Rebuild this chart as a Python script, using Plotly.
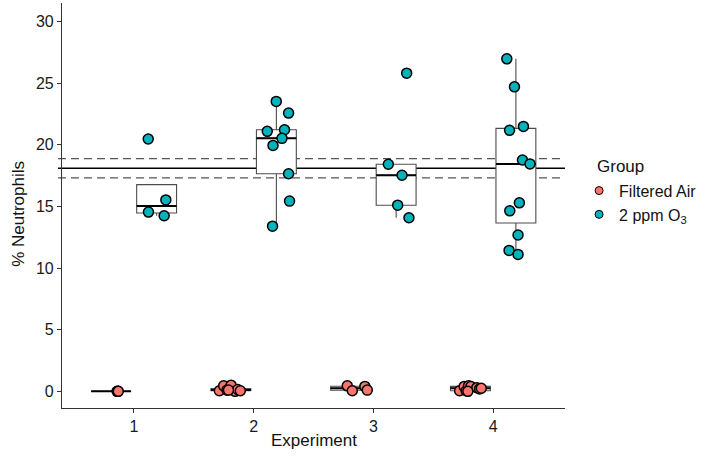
import numpy as np
import plotly.graph_objects as go

# ---------------- data ----------------
experiments = [1, 2, 3, 4]
x_tick_labels = ["1", "2", "3", "4"]
y_tick_values = [0, 5, 10, 15, 20, 25, 30]

x_title = "Experiment"
y_title = "% Neutrophils"
legend_title = "Group"
group_names = ["Filtered Air", "2 ppm O<sub>3</sub>"]
group_colors = ["#F8766D", "#00B3BC"]

# Filtered Air (% neutrophils)
fa_1 = [0.0, 0.0, 0.0]
fa_2 = [0.05, 0.45, 0.1, 0.5, 0.0, 0.15, 0.05, 0.1]
fa_3 = [0.45, 0.05, 0.4, 0.1]
fa_4 = [0.05, 0.4, 0.05, 0.45, 0.4, 0.3, 0.2, 0.25, 0.0]

# 2 ppm O3 (% neutrophils)
o3_1 = [20.47, 15.53, 14.54, 14.24]
o3_2 = [23.52, 22.57, 21.09, 21.22, 20.52, 19.95, 17.65, 15.43, 13.40]
o3_3 = [25.81, 18.42, 17.53, 15.10, 14.08]
o3_4 = [26.97, 24.70, 21.49, 21.17, 18.77, 18.45, 15.29, 14.64, 12.68, 11.43, 11.11]

# horizontal jitter of each point
fa_1_jitter = [0.050, 0.055, 0.060]
fa_2_jitter = [-0.096, -0.060, -0.032, 0.002, 0.035, 0.057, 0.079, -0.020]
fa_3_jitter = [-0.028, 0.014, 0.119, 0.139]
fa_4_jitter = [-0.090, -0.052, -0.035, -0.015, 0.004, 0.054, 0.077, 0.091, -0.021]

o3_1_jitter = [-0.070, 0.077, -0.068, 0.063]
o3_2_jitter = [-0.001, 0.102, -0.076, 0.068, 0.047, -0.028, 0.102, 0.110, -0.032]
o3_3_jitter = [0.088, -0.065, 0.049, 0.013, 0.107]
o3_4_jitter = [-0.076, -0.012, 0.063, -0.053, 0.055, 0.118, 0.029, -0.051, 0.018, -0.057, 0.018]

# reference lines (mean and mean +/- SE of the O3 group)
mean_line = 18.1
se_lines = [17.31, 18.88]

# ---------------- layout constants ----------------
DODGE = 0.19
BOX_W = 0.333
FONT = "Arial, Liberation Sans, sans-serif"

fa_sets = [fa_1, fa_2, fa_3, fa_4]
o3_sets = [o3_1, o3_2, o3_3, o3_4]
fa_jit = [fa_1_jitter, fa_2_jitter, fa_3_jitter, fa_4_jitter]
o3_jit = [o3_1_jitter, o3_2_jitter, o3_3_jitter, o3_4_jitter]


def box_stats(vals):
    v = np.asarray(vals, dtype=float)
    q1, med, q3 = np.percentile(v, [25, 50, 75])
    iqr = q3 - q1
    lo = v[v >= q1 - 1.5 * iqr].min()
    hi = v[v <= q3 + 1.5 * iqr].max()
    return q1, med, q3, min(lo, q1), max(hi, q3)


fig = go.Figure()

groups = [(fa_sets, fa_jit, -DODGE, group_colors[0]), (o3_sets, o3_jit, DODGE, group_colors[1])]

# boxes
for sets, jits, off, col in groups:
    xs, q1s, meds, q3s, lfs, ufs = [], [], [], [], [], []
    mx, my = [], []
    for e, vals in zip(experiments, sets):
        q1, med, q3, lf, uf = box_stats(vals)
        c = e + off
        xs.append(c)
        q1s.append(q1); meds.append(med); q3s.append(q3); lfs.append(lf); ufs.append(uf)
        mx += [c - BOX_W / 2, c + BOX_W / 2, None]
        my += [med, med, None]
    fig.add_trace(go.Box(
        x=xs, q1=q1s, median=meds, q3=q3s, lowerfence=lfs, upperfence=ufs,
        boxpoints=False, width=BOX_W, whiskerwidth=0,
        fillcolor="white", line=dict(color="#4d4d4d", width=1.1),
        showlegend=False, hoverinfo="skip",
    ))
    fig.add_trace(go.Scatter(
        x=mx, y=my, mode="lines", line=dict(color="black", width=2),
        showlegend=False, hoverinfo="skip",
    ))

# points
for sets, jits, off, col in groups:
    px, py = [], []
    for e, vals, jit in zip(experiments, sets, jits):
        for v, j in zip(vals, jit):
            px.append(e + off + j)
            py.append(v)
    fig.add_trace(go.Scatter(
        x=px, y=py, mode="markers",
        marker=dict(size=10, color=col, line=dict(color="black", width=1.5)),
        showlegend=False,
    ))

# legend entries
for name, col in zip(group_names, group_colors):
    fig.add_trace(go.Scatter(
        x=[None], y=[None], mode="markers", name=name,
        marker=dict(size=8, color=col, line=dict(color="black", width=1)),
    ))

# reference lines
fig.add_shape(type="line", xref="paper", x0=-0.008, x1=1, y0=mean_line, y1=mean_line,
              line=dict(color="black", width=1.6), layer="below")
for yv in se_lines:
    fig.add_shape(type="line", xref="paper", x0=-0.008, x1=1, y0=yv, y1=yv,
                  line=dict(color="#555555", width=1.2, dash="8px,5px"), layer="below")

axis_common = dict(
    showline=True, linecolor="#333333", linewidth=1.2,
    ticks="outside", ticklen=4, tickcolor="#333333", tickwidth=1.1,
    showgrid=False, zeroline=False, automargin=False,
    tickfont=dict(family=FONT, size=16, color="#1a1a1a"),
)

fig.add_annotation(
    text=legend_title, xref="paper", yref="paper", x=1.059, y=0.5975,
    xanchor="left", yanchor="middle", showarrow=False,
    font=dict(family=FONT, size=17, color="#111111"),
)
fig.add_annotation(
    text=x_title, xref="paper", yref="paper", x=0.5, y=-0.08,
    xanchor="center", yanchor="middle", showarrow=False,
    font=dict(family=FONT, size=17, color="#111111"),
)
fig.add_annotation(
    text=y_title, xref="paper", yref="paper", x=-0.087, y=0.48,
    xanchor="center", yanchor="middle", textangle=-90, showarrow=False,
    font=dict(family=FONT, size=17, color="#111111"),
)

fig.update_layout(
    width=705, height=460,
    margin=dict(l=62, r=138, t=3, b=52),
    plot_bgcolor="white", paper_bgcolor="white",
    font=dict(family=FONT, color="#111111"),
    xaxis=dict(range=[0.4, 4.6], tickvals=experiments, ticktext=x_tick_labels, **axis_common),
    yaxis=dict(range=[-1.35, 31.5], tickvals=y_tick_values, **axis_common),
    legend=dict(
        x=1.028, xanchor="left", y=0.507, yanchor="middle",
        font=dict(family=FONT, size=16),
        bgcolor="rgba(0,0,0,0)",
    ),
)

fig.write_html(
    "out.html",
    config={"displayModeBar": False},
    post_script="document.body.style.margin='0';document.body.style.overflow='hidden';",
)
